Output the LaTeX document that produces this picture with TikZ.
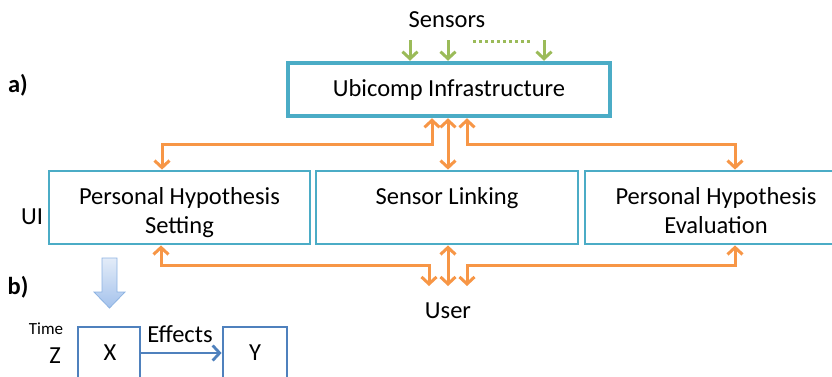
\documentclass[tikz,border=0pt]{standalone}
\usepackage{fontspec}
\setmainfont{Carlito}
\usetikzlibrary{arrows.meta}
\definecolor{teal1}{HTML}{4BACC6}
\definecolor{orng}{HTML}{F79646}
\definecolor{grn}{HTML}{9BBB59}
\definecolor{blu}{HTML}{4F81BD}
\definecolor{lbA}{HTML}{E3ECF8}
\definecolor{lbB}{HTML}{A4C2EC}
\definecolor{lbC}{HTML}{8DB3E2}
\tikzset{
  bigbox/.style={draw=teal1, line width=4.5pt, minimum width=322pt, minimum height=53pt, inner sep=0pt, font=\fontsize{24.5}{29}\selectfont},
  rowbox/.style={draw=teal1, line width=2.8pt, minimum width=261pt, minimum height=73pt, inner sep=0pt, align=center, font=\fontsize{24.5}{29}\selectfont, text height=57pt, text depth=6pt},
  bbox/.style={draw=blu, line width=2.8pt, minimum width=62pt, minimum height=73pt, inner sep=0pt},
  lbl/.style={inner sep=0pt, font=\fontsize{24.5}{29}\selectfont},
  oarr/.style={draw=orng, line width=3pt, {Straight Barb[length=7pt,width=15pt]}-{Straight Barb[length=7pt,width=15pt]}},
  garr/.style={draw=grn, line width=3pt, -{Straight Barb[length=7pt,width=15pt]}},
  barr/.style={draw=blu, line width=2.8pt, -{Straight Barb[length=7pt,width=15pt]}},
}
\begin{document}
\begin{tikzpicture}[x=1pt,y=-1pt]
\useasboundingbox (0,0) rectangle (832,376);
\clip (0,0) rectangle (832,376);
% boxes
\node[bigbox] (ubi) at (449,89.5) {Ubicomp Infrastructure};
\node[rowbox] (left) at (179.5,207.5) {Personal Hypothesis\\Setting};
\node[rowbox, minimum width=262pt] (mid) at (447,207.5) {Sensor Linking\\\vphantom{Setting}};
\node[rowbox, minimum width=262pt] (right) at (716,207.5) {Personal Hypothesis\\Evaluation};
% labels
\node[lbl] (sens) at (447,20) {Sensors};
\node[lbl] (user) at (448,311) {User};
\node[lbl] (ui) at (32,217) {UI};
\node[lbl, font=\fontsize{24.5}{29}\selectfont\bfseries] (la) at (18,85) {a)};
\node[lbl, font=\fontsize{24.5}{29}\selectfont\bfseries] (lb) at (18,287) {b)};
% sensors
\coordinate (s1) at (410,40);
\coordinate (s2) at (448,40);
\coordinate (s3) at (544,40);
\coordinate (d1) at (473,41);
\coordinate (d2) at (530,41);
\draw[garr] (s1) -- (s1 |- ubi.north);
\draw[garr] (s2) -- (s2 |- ubi.north);
\draw[garr] (s3) -- (s3 |- ubi.north);
\draw[draw=grn, line width=3pt, dash pattern=on 3pt off 3pt] (d1) -- (d2);
% top orange connectors
\coordinate (a1) at (162,144);
\coordinate (a2) at (432,144);
\coordinate (m1) at (448,144);
\coordinate (b1) at (467,144);
\coordinate (b2) at (735,144);
\draw[oarr] (left.north -| a1) -- (a1) -- (a2) -- (ubi.south -| a2);
\draw[oarr] (ubi.south -| m1) -- (mid.north -| m1);
\draw[oarr] (ubi.south -| b1) -- (b1) -- (b2) -- (right.north -| b2);
% bottom orange connectors
\coordinate (c1) at (161,265);
\coordinate (c2) at (429,265);
\coordinate (c3) at (429,286);
\coordinate (m2) at (448,286);
\coordinate (e1) at (467,265);
\coordinate (e2) at (735,265);
\coordinate (e3) at (467,286);
\draw[oarr] (left.south -| c1) -- (c1) -- (c2) -- (c3);
\draw[oarr] (mid.south -| m2) -- (m2);
\draw[oarr] (e3) -- (e1) -- (e2) -- (right.south -| e2);
% blue block arrow
\path[draw=lbC, line width=0.8pt, top color=lbA, bottom color=lbB]
  (102,258) -- (117,258) -- (117,292) -- (125,292) -- (109.5,308) -- (94,292) -- (102,292) -- cycle;
% b) part
\node[bbox] (X) at (109,363.5) {};
\node[bbox, minimum width=64pt] (Y) at (255,363.5) {};
\node[lbl] (xl) at (110,353) {X};
\node[lbl] (yl) at (255,353) {Y};
\node[lbl] (zl) at (55,356) {Z};
\node[lbl, font=\fontsize{17}{20}\selectfont] (tl) at (46,329) {Time};
\node[lbl] (ef) at (180,334) {Effects};
\draw[barr] (X.east |- xl) -- (Y.west |- xl);
\end{tikzpicture}
\end{document}
